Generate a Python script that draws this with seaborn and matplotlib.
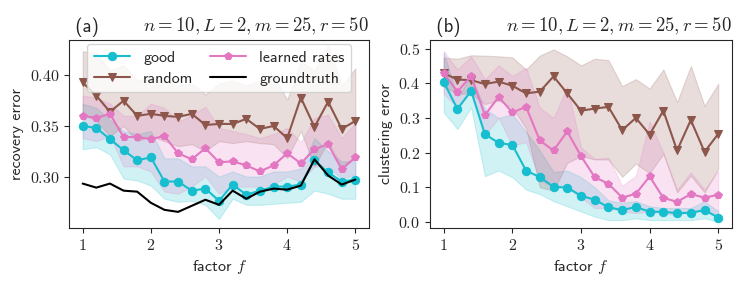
import numpy as np
import pandas as pd
import matplotlib
matplotlib.use("Agg")
import matplotlib.pyplot as plt
from matplotlib.ticker import FuncFormatter
import seaborn as sns

factor = [1.0, 1.2, 1.4, 1.6, 1.8, 2.0, 2.2, 2.4, 2.6, 2.8, 3.0,
          3.2, 3.4, 3.6, 3.8, 4.0, 4.2, 4.4, 4.6, 4.8, 5.0]

# (a) recovery error
rec_good = [0.350, 0.348, 0.337, 0.326, 0.316, 0.319, 0.295, 0.295, 0.286, 0.288, 0.276,
            0.292, 0.282, 0.286, 0.290, 0.290, 0.292, 0.316, 0.304, 0.295, 0.297]
rec_good_lo = [0.327, 0.329, 0.322, 0.298, 0.296, 0.291, 0.278, 0.275, 0.276, 0.272, 0.258,
               0.278, 0.272, 0.272, 0.273, 0.274, 0.275, 0.286, 0.283, 0.278, 0.278]
rec_good_hi = [0.372, 0.368, 0.356, 0.345, 0.342, 0.345, 0.318, 0.318, 0.310, 0.310, 0.300,
               0.305, 0.300, 0.300, 0.305, 0.305, 0.308, 0.338, 0.325, 0.315, 0.315]

rec_rand = [0.393, 0.380, 0.364, 0.375, 0.360, 0.362, 0.360, 0.359, 0.362, 0.351, 0.352,
            0.352, 0.357, 0.347, 0.350, 0.338, 0.378, 0.349, 0.374, 0.347, 0.355]
rec_rand_lo = [0.362, 0.355, 0.340, 0.350, 0.335, 0.340, 0.335, 0.330, 0.332, 0.325, 0.335,
               0.333, 0.335, 0.333, 0.332, 0.318, 0.345, 0.310, 0.335, 0.310, 0.320]
rec_rand_hi = [0.424, 0.422, 0.405, 0.410, 0.395, 0.398, 0.395, 0.390, 0.392, 0.381, 0.392,
               0.395, 0.390, 0.395, 0.400, 0.376, 0.414, 0.405, 0.430, 0.390, 0.407]

rec_learn = [0.360, 0.358, 0.362, 0.339, 0.339, 0.337, 0.340, 0.323, 0.317, 0.328, 0.314,
             0.315, 0.311, 0.305, 0.311, 0.323, 0.313, 0.327, 0.332, 0.307, 0.319]
rec_learn_lo = [0.338, 0.335, 0.340, 0.310, 0.310, 0.305, 0.285, 0.283, 0.290, 0.300, 0.283,
                0.290, 0.290, 0.290, 0.292, 0.300, 0.295, 0.310, 0.310, 0.298, 0.302]
rec_learn_hi = [0.380, 0.378, 0.372, 0.360, 0.360, 0.372, 0.368, 0.354, 0.361, 0.369, 0.348,
                0.345, 0.342, 0.338, 0.342, 0.348, 0.334, 0.358, 0.361, 0.338, 0.353]

rec_truth = [0.293, 0.289, 0.293, 0.286, 0.285, 0.274, 0.267, 0.265, 0.271, 0.277, 0.272,
             0.286, 0.278, 0.285, 0.288, 0.287, 0.291, 0.317, 0.301, 0.292, 0.297]

# (b) clustering error
clu_good = [0.404, 0.326, 0.378, 0.253, 0.228, 0.222, 0.148, 0.129, 0.101, 0.099, 0.075,
            0.064, 0.042, 0.034, 0.043, 0.029, 0.029, 0.025, 0.026, 0.034, 0.012]
clu_good_lo = [0.316, 0.268, 0.330, 0.132, 0.148, 0.129, 0.093, 0.080, 0.060, 0.045, 0.030,
               0.015, 0.005, 0.005, 0.010, 0.005, 0.005, 0.005, 0.005, 0.010, 0.000]
clu_good_hi = [0.490, 0.360, 0.420, 0.326, 0.300, 0.311, 0.260, 0.206, 0.144, 0.148, 0.129,
               0.100, 0.062, 0.055, 0.060, 0.045, 0.040, 0.040, 0.040, 0.060, 0.030]

clu_rand = [0.429, 0.411, 0.409, 0.398, 0.405, 0.393, 0.371, 0.376, 0.420, 0.371, 0.321,
            0.327, 0.332, 0.265, 0.300, 0.252, 0.321, 0.206, 0.294, 0.202, 0.254]
clu_rand_lo = [0.390, 0.370, 0.370, 0.340, 0.350, 0.330, 0.270, 0.100, 0.090, 0.170, 0.190,
               0.180, 0.180, 0.130, 0.168, 0.140, 0.196, 0.085, 0.133, 0.085, 0.153]
clu_rand_hi = [0.474, 0.471, 0.481, 0.480, 0.478, 0.475, 0.440, 0.480, 0.498, 0.478, 0.452,
               0.471, 0.467, 0.392, 0.412, 0.385, 0.440, 0.346, 0.450, 0.335, 0.399]

clu_learn = [0.429, 0.376, 0.421, 0.308, 0.361, 0.316, 0.332, 0.235, 0.206, 0.261, 0.190,
             0.129, 0.110, 0.070, 0.081, 0.131, 0.069, 0.058, 0.080, 0.070, 0.078]
clu_learn_lo = [0.370, 0.330, 0.380, 0.250, 0.300, 0.220, 0.230, 0.120, 0.100, 0.100, 0.070,
                0.040, 0.040, 0.030, 0.025, 0.030, 0.025, 0.020, 0.030, 0.030, 0.020]
clu_learn_hi = [0.493, 0.440, 0.478, 0.412, 0.452, 0.421, 0.445, 0.330, 0.300, 0.390, 0.215,
                0.182, 0.185, 0.104, 0.133, 0.290, 0.200, 0.093, 0.143, 0.093, 0.147]

sns.set_style("ticks")
plt.rcParams['font.family'] = ['cmss10', 'DejaVu Sans']
plt.rcParams['mathtext.fontset'] = 'cm'
plt.rcParams['axes.formatter.use_mathtext'] = True
plt.rcParams['font.size'] = 11.5

C_GOOD, C_RAND, C_LEARN = "#17becf", "#8c564b", "#e377c2"

fig = plt.figure(figsize=(7.47, 2.84), dpi=100)
ax1 = fig.add_axes([0.0924, 0.197, 0.4016, 0.662])
ax2 = fig.add_axes([0.5756, 0.197, 0.4043, 0.662])


def draw(ax, series):
    for vals, lo, hi, color, marker, name in series:
        ax.fill_between(factor, lo, hi, color=color, alpha=0.2, linewidth=0.8)
        sns.lineplot(x=factor, y=vals, ax=ax, color=color, marker=marker,
                     markersize=6, markeredgecolor=color, label=name, linewidth=1.5)


draw(ax1, [
    (rec_good, rec_good_lo, rec_good_hi, C_GOOD, "o", "good"),
    (rec_rand, rec_rand_lo, rec_rand_hi, C_RAND, "v", "random"),
    (rec_learn, rec_learn_lo, rec_learn_hi, C_LEARN, "p", "learned rates"),
])
sns.lineplot(x=factor, y=rec_truth, ax=ax1, color="black", linewidth=1.5, label="groundtruth")

draw(ax2, [
    (clu_good, clu_good_lo, clu_good_hi, C_GOOD, "o", "good"),
    (clu_rand, clu_rand_lo, clu_rand_hi, C_RAND, "v", "random"),
    (clu_learn, clu_learn_lo, clu_learn_hi, C_LEARN, "p", "learned rates"),
])

ax1.legend(ncol=2, loc="upper center", fontsize=11.5, handlelength=2.3,
           columnspacing=1.0, borderaxespad=0.25, labelspacing=0.45)
if ax2.get_legend():
    ax2.get_legend().remove()

ax1.set_xlim(0.8, 5.2)
ax1.set_ylim(0.249, 0.435)
ax1.set_yticks([0.30, 0.35, 0.40])
ax1.yaxis.set_major_formatter(FuncFormatter(lambda v, p: f"${v:.2f}$"))
ax1.set_ylabel("recovery error")

ax2.set_xlim(0.8, 5.2)
ax2.set_ylim(-0.018, 0.525)
ax2.set_yticks([0.0, 0.1, 0.2, 0.3, 0.4, 0.5])
ax2.yaxis.set_major_formatter(FuncFormatter(lambda v, p: f"${v:.1f}$"))
ax2.set_ylabel("clustering error")

for ax, tag in [(ax1, "(a)"), (ax2, "(b)")]:
    ax.set_xticks([1, 2, 3, 4, 5])
    ax.xaxis.set_major_formatter(FuncFormatter(lambda v, p: f"${v:.0f}$"))
    ax.set_xlabel("factor $f$")
    ax.set_title(" " + tag, loc="left", fontsize=13.5)
    ax.set_title(r"$n=10, L=2, m=25, r=50$", loc="right", fontsize=13.5)

fig.savefig("out.png", dpi=100)
